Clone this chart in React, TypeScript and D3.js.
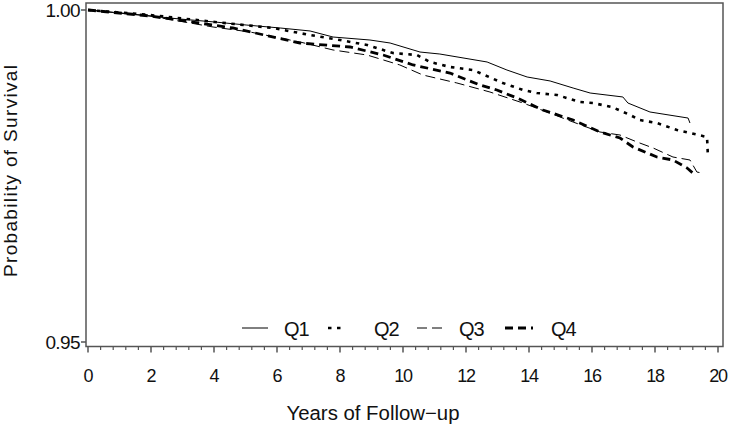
import React from "react";
import * as d3 from "d3";

const W = 733;
const H = 429;

const xTicks = [0, 2, 4, 6, 8, 10, 12, 14, 16, 18, 20];
const yTicks = [0.95, 1.0];
const yTickLabels = ["0.95", "1.00"];

const seriesNames = ["Q1", "Q2", "Q3", "Q4"];

const q1Time = [0, 1.02, 1.97, 2.92, 4.03, 5.02, 6.1, 7.05, 7.78, 8.95, 9.59, 10.54, 11.17, 12.67, 13.3, 13.94, 14.67, 15.4, 15.94, 16.98, 17.14, 17.84, 19.05, 19.11];
const q1Surv = [1.0, 0.99955, 0.9991, 0.99864, 0.99819, 0.99774, 0.99729, 0.99684, 0.99593, 0.99548, 0.99503, 0.99367, 0.99337, 0.99217, 0.99096, 0.98991, 0.98931, 0.98825, 0.9875, 0.9869, 0.98599, 0.98464, 0.98373, 0.98298];

const q2Time = [0, 1.97, 4.03, 5.87, 7.05, 8.0, 8.86, 9.68, 10.44, 10.86, 11.49, 12.22, 12.44, 13.17, 13.81, 14.25, 14.89, 15.62, 16.03, 16.63, 17.21, 17.52, 18.06, 18.7, 19.11, 19.65, 19.66, 19.68];
const q2Surv = [1.0, 0.99925, 0.99819, 0.99729, 0.99623, 0.99548, 0.99473, 0.99352, 0.99322, 0.99217, 0.99142, 0.99096, 0.99051, 0.98901, 0.98795, 0.9875, 0.9872, 0.98614, 0.98599, 0.98539, 0.98419, 0.98343, 0.98298, 0.98193, 0.98148, 0.98087, 0.98012, 0.97786];

const q3Time = [0, 1.97, 3.97, 5.14, 6.73, 7.78, 8.86, 9.9, 10.63, 11.71, 12.76, 13.81, 14.57, 15.4, 16.25, 16.89, 17.43, 17.94, 18.57, 19.11, 19.33, 19.49];
const q3Surv = [1.0, 0.9991, 0.99744, 0.99669, 0.99518, 0.99398, 0.99322, 0.99172, 0.99021, 0.98901, 0.98765, 0.98599, 0.98464, 0.98313, 0.98163, 0.98117, 0.98012, 0.97922, 0.97786, 0.97741, 0.9756, 0.97545];

const q4Time = [0, 1.97, 4.6, 6.73, 8.32, 9.37, 10.32, 11.49, 12.44, 12.98, 13.62, 14.44, 15.4, 16.25, 16.89, 17.3, 18.06, 18.57, 19.02, 19.27];
const q4Surv = [1.0, 0.9991, 0.99729, 0.99503, 0.99443, 0.99322, 0.99172, 0.99051, 0.9887, 0.98795, 0.98675, 0.98494, 0.98343, 0.98163, 0.98072, 0.97937, 0.97786, 0.97741, 0.9762, 0.97515];

const times = [q1Time, q2Time, q3Time, q4Time];
const survs = [q1Surv, q2Surv, q3Surv, q4Surv];

const styles = [
  { width: 1, dash: "none" },
  { width: 2.6, dash: "3.5 5.5" },
  { width: 1, dash: "10 5" },
  { width: 2.8, dash: "8 5" },
];

const legendPos = [
  { x1: 242, x2: 268, tx: 284 },
  { x1: 328, x2: 342, tx: 374 },
  { x1: 417, x2: 446, tx: 459 },
  { x1: 505, x2: 533, tx: 551 },
];

const FONT = "'Liberation Sans', Arial, Helvetica, sans-serif";

export default function App() {
  const x = d3.scaleLinear().domain([0, 20]).range([88, 718]);
  const y = d3.scaleLinear().domain([0.95, 1.0]).range([342, 10]);
  const frame = { left: 86, top: 3, right: 723, bottom: 346.5 };

  const minorTicks = d3.range(0, 20.001, 0.4).filter(
    (v) => Math.abs(v / 2 - Math.round(v / 2)) > 1e-6
  );

  const line = d3
    .line<[number, number]>()
    .x((d) => x(d[0]))
    .y((d) => y(d[1]))
    .curve(d3.curveLinear);

  return (
    <svg
      width={W}
      height={H}
      style={{ position: "absolute", left: 0, top: 0, background: "#fff" }}
      fontFamily={FONT}
    >
      <rect x={0} y={0} width={W} height={H} fill="#fff" />
      <rect
        x={frame.left}
        y={frame.top}
        width={frame.right - frame.left}
        height={frame.bottom - frame.top}
        fill="none"
        stroke="#555"
        strokeWidth={1.5}
      />
      {yTicks.map((t, i) => (
        <g key={"yt" + i}>
          <line x1={frame.left - 5} x2={frame.left} y1={y(t)} y2={y(t)} stroke="#555" strokeWidth={1.5} />
          <text
            x={frame.left - 6}
            y={y(t)}
            textAnchor="end"
            dominantBaseline="central"
            fontSize={19}
            letterSpacing={-0.6}
            fill="#111"
          >
            {yTickLabels[i]}
          </text>
        </g>
      ))}
      {xTicks.map((t) => (
        <g key={"xt" + t}>
          <line x1={x(t)} x2={x(t)} y1={frame.bottom} y2={frame.bottom + 6} stroke="#555" strokeWidth={1.5} />
          <text
            x={x(t)}
            y={376}
            textAnchor="middle"
            dominantBaseline="central"
            fontSize={18}
            letterSpacing={-1.2}
            fill="#111"
          >
            {t}
          </text>
        </g>
      ))}
      {minorTicks.map((t, i) => (
        <line key={"mt" + i} x1={x(t)} x2={x(t)} y1={frame.bottom} y2={frame.bottom + 3.5} stroke="#555" strokeWidth={1.2} />
      ))}
      <text
        x={373}
        y={413}
        textAnchor="middle"
        dominantBaseline="central"
        fontSize={20}
        textLength={173}
        lengthAdjust="spacingAndGlyphs"
        fill="#111"
      >
        Years of Follow−up
      </text>
      <text
        transform="translate(10,171) rotate(-90)"
        textAnchor="middle"
        dominantBaseline="central"
        fontSize={19}
        textLength={212}
        lengthAdjust="spacing"
        fill="#111"
      >
        Probability of Survival
      </text>
      {seriesNames.map((name, i) => {
        const pts: [number, number][] = times[i].map((t, j) => [t, survs[i][j]]);
        return (
          <path
            key={name}
            d={line(pts) || ""}
            fill="none"
            stroke="#000"
            strokeWidth={styles[i].width}
            strokeDasharray={styles[i].dash}
          />
        );
      })}
      {seriesNames.map((name, i) => (
        <g key={"lg" + name}>
          <line
            x1={legendPos[i].x1}
            x2={legendPos[i].x2}
            y1={328}
            y2={328}
            stroke="#000"
            strokeWidth={styles[i].width}
            strokeDasharray={styles[i].dash}
          />
          <text
            x={legendPos[i].tx}
            y={329}
            dominantBaseline="central"
            fontSize={20}
            letterSpacing={-1}
            fill="#111"
          >
            {name}
          </text>
        </g>
      ))}
    </svg>
  );
}
